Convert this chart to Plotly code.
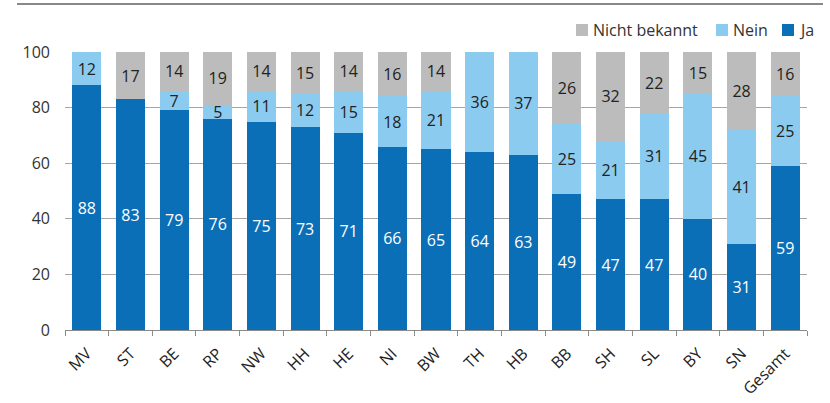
import plotly.graph_objects as go

categories = ["MV", "ST", "BE", "RP", "NW", "HH", "HE", "NI", "BW", "TH", "HB", "BB", "SH", "SL", "BY", "SN", "Gesamt"]
ja = [88, 83, 79, 76, 75, 73, 71, 66, 65, 64, 63, 49, 47, 47, 40, 31, 59]
nein = [12, 0, 7, 5, 11, 12, 15, 18, 21, 36, 37, 25, 21, 31, 45, 41, 25]
nicht_bekannt = [0, 17, 14, 19, 14, 15, 14, 16, 14, 0, 0, 26, 32, 22, 15, 28, 16]
series_names = ["Nicht bekannt", "Nein", "Ja"]

c_ja = "#0b6fb8"
c_nein = "#8ccbf0"
c_nb = "#bcbcbc"
font_family = "Open Sans, Noto Sans, sans-serif"

W, H = 830, 403
L, R, T, B = 65, 23, 52, 73
PW, PH = W - L - R, H - T - B

def px(x):
    return (x - L) / PW

def py(y):
    return (H - B - y) / PH

def labels(vals):
    return [str(v) if v else "" for v in vals]

fig = go.Figure()
for vals, name, col, tcol in [(ja, "Ja", c_ja, "white"),
                              (nein, "Nein", c_nein, "#222222"),
                              (nicht_bekannt, "Nicht bekannt", c_nb, "#222222")]:
    fig.add_trace(go.Bar(x=categories, y=vals, name=name, marker_color=col,
                         marker_line_width=0,
                         text=labels(vals), textposition="inside", insidetextanchor="middle",
                         textfont=dict(color=tcol, size=16), textangle=0,
                         showlegend=False))

fig.update_layout(
    barmode="stack",
    bargap=0.335,
    width=W, height=H,
    margin=dict(l=L, r=R, t=T, b=B, autoexpand=False),
    paper_bgcolor="white", plot_bgcolor="white",
    font=dict(family=font_family, size=16, color="#333333"),
    uniformtext=dict(minsize=16, mode="show"),
    showlegend=False,
)
fig.update_yaxes(range=[0, 100], tickvals=[0, 20, 40, 60, 80, 100], showgrid=True,
                 gridcolor="#a6a6a6", gridwidth=1, zeroline=False, showline=False,
                 automargin=False,
                 ticks="", ticklabelstandoff=14, tickfont=dict(size=16, color="#333333"))
fig.update_xaxes(tickangle=-45, showline=True, linecolor="#8a8a8a", linewidth=1,
                 automargin=False,
                 ticks="outside", tickson="boundaries", ticklen=5, tickcolor="#8a8a8a",
                 ticklabelstandoff=7, tickfont=dict(size=16, color="#222222"))

# top rule
fig.add_shape(type="line", xref="paper", yref="paper", x0=px(17), x1=px(823), y0=py(4), y1=py(4),
              line=dict(color="#606060", width=1.5))

# legend (custom, compact like the original)
legend_items = [(series_names[0], c_nb, 576), (series_names[1], c_nein, 716), (series_names[2], c_ja, 782)]
for name, col, x0 in legend_items:
    fig.add_shape(type="rect", xref="paper", yref="paper", x0=px(x0), x1=px(x0 + 12),
                  y0=py(36), y1=py(24), fillcolor=col, line_width=0)
    fig.add_annotation(xref="paper", yref="paper", x=px(x0 + 15), y=py(30), text=name,
                       showarrow=False, xanchor="left", yanchor="middle",
                       font=dict(size=16, color="#333333"))

fig.write_html("out.html")
